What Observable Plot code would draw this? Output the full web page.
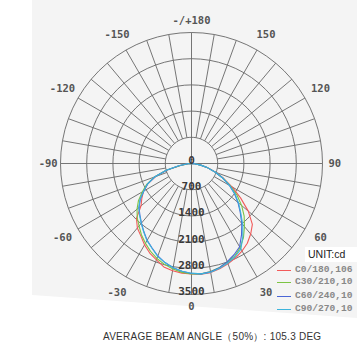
<!DOCTYPE html>
<html><head><meta charset="utf-8">
<script src="https://cdn.jsdelivr.net/npm/d3@7"></script>
<script src="https://cdn.jsdelivr.net/npm/@observablehq/plot@0.6"></script>
<style>
body{margin:0;background:#fff;}
#wrap{position:relative;width:357px;height:344px;overflow:hidden;font-family:"Liberation Sans",Arial,sans-serif;}
#bg{position:absolute;left:0;top:0;width:357px;height:344px;background:#f4f4f4;clip-path:polygon(32px 0,357px 0,357px 318px,273px 312px,32px 295px);}
#chart{position:absolute;left:0;top:0;}
#unit{position:absolute;left:305px;top:247px;width:52px;height:15px;background:#fff;font-size:10.5px;color:#222;line-height:15px;padding-left:3px;box-sizing:border-box;}
.leg{position:absolute;left:277px;height:12px;padding-left:18px;white-space:nowrap;font-family:"Liberation Mono","DejaVu Sans Mono",monospace;font-size:9.6px;color:#888;line-height:12px;font-weight:bold;}
.leg i{position:absolute;left:0;top:6px;width:14px;height:1px;}
#cap{position:absolute;left:103px;top:330px;white-space:nowrap;font-size:10px;color:#333;letter-spacing:0.25px;}
</style></head>
<body>
<div id="wrap"><div id="bg"></div><div id="chart"></div><div id="unit"></div><div id="legend"></div><div id="cap"></div></div>
<script>
// ---- data ----
const angles = [-90,-85,-80,-75,-70,-65,-60,-55,-50,-45,-40,-35,-30,-25,-20,-15,-10,-5,0,5,10,15,20,25,30,35,40,45,50,55,60,65,70,75,80,85,90];
const c0_180  = [0,80,280,680,1020,1300,1480,1620,1760,2080,2250,2360,2510,2640,2740,2860,2910,2940,2950,2970,2960,2910,2850,2780,2700,2600,2460,2300,1980,1600,1250,950,700,460,250,80,0];
const c30_210 = [0,80,300,700,1050,1320,1520,1730,1900,2050,2180,2330,2460,2590,2700,2790,2860,2920,2950,2960,2930,2880,2800,2730,2600,2420,2200,1990,1750,1490,1200,930,680,450,250,80,0];
const c60_240 = [0,100,340,690,1040,1290,1470,1670,1830,1950,2080,2220,2370,2490,2630,2740,2830,2890,2940,2960,2940,2880,2790,2690,2570,2330,2090,1840,1620,1400,1170,920,680,450,250,80,0];
const c90_270 = [0,100,350,700,1050,1300,1480,1680,1840,1960,2090,2230,2380,2500,2640,2740,2830,2890,2930,2960,2950,2900,2830,2750,2640,2390,2130,1860,1640,1420,1180,920,680,450,250,80,0];
const seriesNames = ["C0/180,106","C30/210,10","C60/240,10","C90/270,10"];
const seriesColors = ["#f25a5a","#7cc444","#4a66d6","#3cb4dc"];
const ringValues = [700,1400,2100,2800,3500];
const ringLabels = ["700","1400","2100","2800","3500"];
const angleTicks = [0,30,60,90,120,150,180,-30,-60,-90,-120,-150];
const angleTickLabels = ["0","30","60","90","120","150","-/+180","-30","-60","-90","-120","-150"];
const unitText = "UNIT:cd";
const caption = "AVERAGE BEAM ANGLE（50%）: 105.3 DEG";

// ---- geometry helpers ----
const rad = a => a * Math.PI / 180;
const px = (v, a) => v * Math.sin(rad(a));
const py = (v, a) => -v * Math.cos(rad(a));

const allSeries = [c0_180, c30_210, c60_240, c90_270];
const curves = [];
allSeries.forEach((vals, s) => vals.forEach((v, i) => curves.push({s, a: angles[i], v})));

const ringPts = [];
ringValues.forEach(r => { for (let a = 0; a <= 360; a += 5) ringPts.push({r, a}); });

const spokes = d3.range(0, 360, 10).map(a => ({a, r0: a % 90 === 0 ? 0 : ringValues[0], r1: ringValues[ringValues.length - 1]}));

const tickData = angleTicks.map((a, i) => ({a, t: angleTickLabels[i], r: a % 90 === 0 ? 3830 : 3980}));
const ringLab = [{v: 0, t: "0"}].concat(ringValues.map((v, i) => ({v, t: ringLabels[i]})));

const k = 3500 / 131, cx = 191, cy = 163, W = 357, H = 320;

const chart = Plot.plot({
  width: W, height: H, margin: 0,
  style: {background: "transparent", overflow: "visible"},
  x: {domain: [-cx * k, (W - cx) * k], range: [0, W], axis: null},
  y: {domain: [-(H - cy) * k, cy * k], range: [H, 0], axis: null},
  marks: [
    Plot.line(ringPts, {x: d => px(d.r, d.a), y: d => py(d.r, d.a), z: "r", stroke: "#666", strokeWidth: 0.9}),
    Plot.link(spokes, {x1: d => px(d.r0, d.a), y1: d => py(d.r0, d.a), x2: d => px(d.r1, d.a), y2: d => py(d.r1, d.a), stroke: "#666", strokeWidth: 0.9}),
    Plot.line(curves, {x: d => px(d.v, d.a), y: d => py(d.v, d.a), z: "s", stroke: d => seriesColors[d.s], strokeWidth: 1.1}),
    Plot.text(ringLab, {x: 0, y: d => py(d.v, 0), text: "t", dy: -3, fontSize: 11, fontWeight: "bold", fill: "#3a3a3a", fontFamily: "DejaVu Sans Mono, monospace"}),
    Plot.text(tickData, {x: d => px(d.r, d.a), y: d => py(d.r, d.a), text: "t", fontSize: 10.5, fontWeight: "bold", fill: "#555", fontFamily: "DejaVu Sans Mono, monospace"})
  ]
});
document.getElementById("chart").appendChild(chart);
document.getElementById("unit").textContent = unitText;
const legTops = [264, 276, 290, 303];
const legend = document.getElementById("legend");
seriesNames.forEach((n, i) => {
  const d = document.createElement("div");
  d.className = "leg";
  d.style.top = legTops[i] + "px";
  const sw = document.createElement("i");
  sw.style.background = seriesColors[i];
  d.appendChild(sw);
  d.appendChild(document.createTextNode(n));
  legend.appendChild(d);
});
document.getElementById("cap").textContent = caption;
</script>
</body></html>
